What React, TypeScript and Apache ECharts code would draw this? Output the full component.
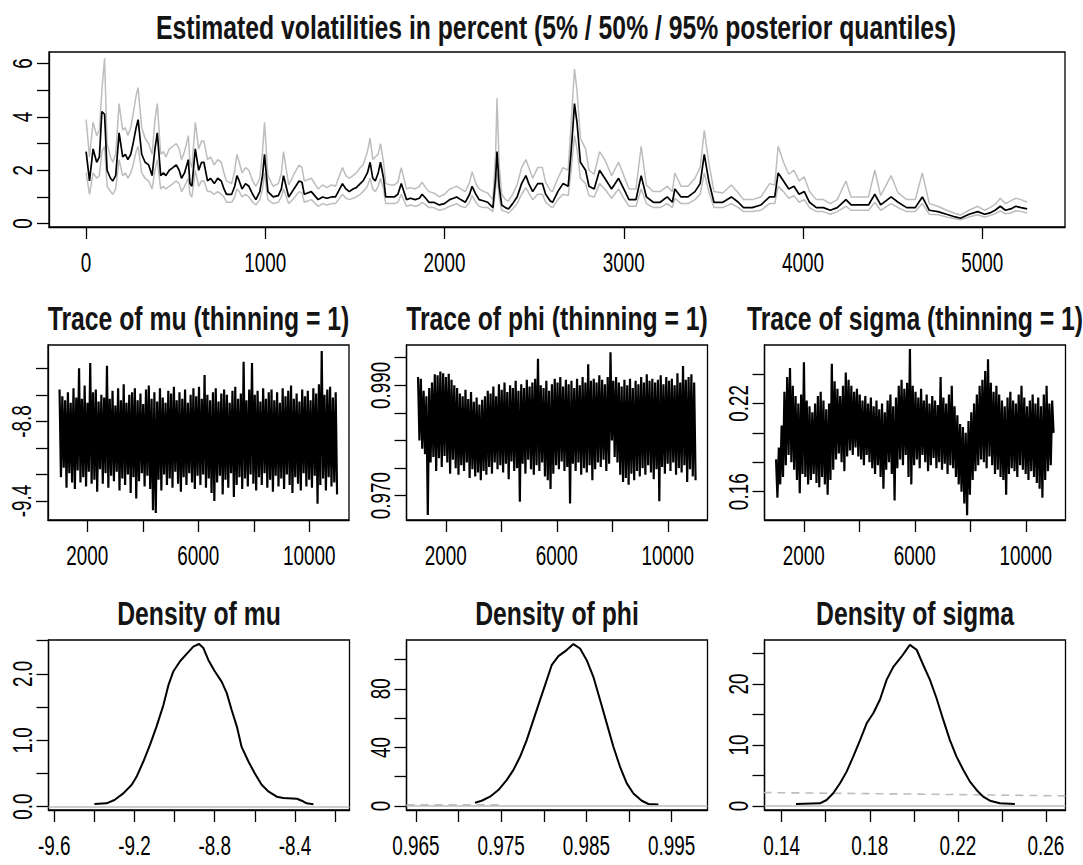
import React, { useEffect, useRef } from "react";
import * as echarts from "echarts";

// ---------- Top panel: estimated volatilities (5% / 50% / 95% posterior quantiles) ----------
const volTime = [
  1, 20, 40, 60, 75, 89, 104, 118, 137, 150,
  166, 185, 205, 220, 234, 250, 263, 280, 291, 311,
  330, 350, 369, 385, 398, 417, 432, 446, 465, 485,
  504, 520, 533, 550, 571, 580, 591, 610, 629, 645,
  658, 678, 695, 716, 735, 755, 770, 784, 813, 830,
  842, 855, 871, 890, 909, 930, 948, 970, 985, 996,
  1015, 1044, 1073, 1090, 1102, 1131, 1160, 1189, 1205, 1218,
  1257, 1295, 1320, 1344, 1370, 1392, 1431, 1450, 1469, 1490,
  1508, 1530, 1546, 1570, 1585, 1600, 1614, 1630, 1643, 1660,
  1672, 1700, 1720, 1740, 1759, 1788, 1810, 1836, 1860, 1875,
  1895, 1913, 1940, 1971, 2000, 2029, 2050, 2068, 2090, 2116,
  2140, 2154, 2175, 2193, 2220, 2241, 2270, 2285, 2293, 2305,
  2319, 2340, 2357, 2380, 2405, 2430, 2454, 2470, 2492, 2520,
  2546, 2564, 2590, 2603, 2632, 2661, 2690, 2705, 2715, 2725,
  2739, 2758, 2787, 2806, 2835, 2865, 2894, 2932, 2971, 3000,
  3029, 3068, 3097, 3126, 3165, 3203, 3242, 3271, 3285, 3319,
  3358, 3397, 3426, 3449, 3474, 3503, 3552, 3600, 3639, 3668,
  3716, 3765, 3813, 3842, 3861, 3891, 3920, 3949, 3978, 4007,
  4036, 4074, 4113, 4152, 4191, 4239, 4268, 4317, 4365, 4400,
  4433, 4491, 4530, 4578, 4626, 4665, 4704, 4752, 4800, 4849,
  4878, 4926, 4974, 5013, 5042, 5071, 5100, 5129, 5158, 5187,
  5216, 5250,
];
const volQ05 = [
  1.9, 1.1, 1.9, 1.7, 1.8, 2.7, 2.9, 1.4, 1.2, 1.1,
  1.3, 2.4, 1.8, 1.9, 1.7, 1.9, 2.2, 2.7, 2.9, 1.9,
  1.7, 1.6, 1.3, 2.0, 2.4, 1.3, 1.4, 1.3, 1.4, 1.5,
  1.6, 1.5, 1.2, 1.4, 1.7, 1.1, 1.0, 2.0, 1.4, 1.6,
  1.6, 1.2, 1.2, 1.1, 1.2, 1.1, 1.0, 0.8, 0.8, 1.0,
  1.3, 1.2, 1.0, 1.1, 1.0, 0.8, 0.7, 0.9, 1.3, 1.9,
  0.9, 0.75, 0.8, 1.0, 1.3, 0.75, 0.95, 1.2, 1.15, 0.8,
  0.9, 0.65, 0.75, 0.7, 0.75, 0.75, 1.1, 0.95, 0.9, 0.95,
  1.0, 1.1, 1.2, 1.4, 1.7, 1.3, 1.2, 1.4, 1.7, 1.3,
  0.75, 0.75, 0.75, 0.8, 1.1, 0.65, 0.7, 0.65, 0.7, 0.8,
  0.7, 0.6, 0.6, 0.5, 0.55, 0.65, 0.7, 0.75, 0.65, 0.6,
  0.8, 1.05, 0.8, 0.65, 0.6, 0.6, 0.45, 1.3, 1.9, 1.0,
  0.5, 0.45, 0.4, 0.55, 0.75, 1.1, 1.35, 1.15, 0.9, 1.1,
  1.1, 0.8, 0.65, 0.6, 0.9, 1.1, 1.05, 1.9, 2.6, 3.3,
  2.8, 1.7, 1.5, 1.05, 1.0, 1.5, 1.3, 0.95, 1.3, 0.95,
  0.65, 0.65, 1.3, 0.75, 0.6, 0.6, 0.75, 0.6, 0.95, 0.75,
  0.75, 0.9, 1.1, 1.9, 1.2, 0.6, 0.6, 0.75, 0.6, 0.45,
  0.45, 0.5, 0.75, 0.75, 1.4, 1.2, 0.95, 1.05, 0.8, 0.9,
  0.6, 0.45, 0.45, 0.35, 0.45, 0.65, 0.5, 0.5, 0.5, 0.8,
  0.5, 0.75, 0.6, 0.45, 0.45, 0.75, 0.35, 0.33, 0.25, 0.18,
  0.14, 0.25, 0.33, 0.25, 0.3, 0.37, 0.48, 0.37, 0.4, 0.48,
  0.45, 0.4,
];
const volQ50 = [
  2.7, 1.6, 2.8, 2.3, 2.5, 4.2, 4.1, 2.0, 1.7, 1.6,
  1.8, 3.4, 2.5, 2.6, 2.4, 2.6, 3.0, 3.6, 3.9, 2.6,
  2.3, 2.2, 1.8, 2.8, 3.4, 1.8, 1.9, 1.8, 2.0, 2.1,
  2.2, 2.0, 1.7, 1.9, 2.4, 1.5, 1.4, 2.8, 2.0, 2.3,
  2.3, 1.6, 1.7, 1.5, 1.7, 1.6, 1.3, 1.1, 1.1, 1.4,
  1.8, 1.6, 1.3, 1.5, 1.4, 1.1, 0.9, 1.2, 1.8, 2.6,
  1.2, 1.0, 1.05, 1.3, 1.8, 1.0, 1.3, 1.6, 1.55, 1.1,
  1.2, 0.9, 1.0, 0.95, 1.0, 1.0, 1.5, 1.3, 1.2, 1.3,
  1.35, 1.5, 1.6, 1.9, 2.3, 1.7, 1.6, 1.9, 2.3, 1.7,
  1.0, 1.0, 1.0, 1.1, 1.5, 0.9, 0.95, 0.9, 0.95, 1.1,
  0.95, 0.8, 0.8, 0.7, 0.75, 0.9, 0.95, 1.0, 0.9, 0.8,
  1.1, 1.4, 1.1, 0.9, 0.85, 0.8, 0.6, 1.7, 2.7, 1.4,
  0.7, 0.6, 0.55, 0.75, 1.0, 1.5, 1.8, 1.5, 1.2, 1.5,
  1.5, 1.1, 0.85, 0.8, 1.2, 1.5, 1.4, 2.6, 3.5, 4.5,
  3.8, 2.3, 2.0, 1.4, 1.3, 2.0, 1.7, 1.3, 1.7, 1.3,
  0.9, 0.9, 1.8, 1.0, 0.8, 0.8, 1.0, 0.8, 1.3, 1.0,
  1.0, 1.2, 1.5, 2.6, 1.6, 0.8, 0.8, 1.0, 0.8, 0.6,
  0.6, 0.7, 1.0, 1.0, 1.9, 1.6, 1.3, 1.4, 1.1, 1.2,
  0.8, 0.6, 0.6, 0.5, 0.6, 0.9, 0.7, 0.7, 0.7, 1.1,
  0.7, 1.0, 0.8, 0.6, 0.6, 1.0, 0.5, 0.45, 0.35, 0.25,
  0.2, 0.35, 0.45, 0.35, 0.4, 0.5, 0.65, 0.5, 0.55, 0.65,
  0.6, 0.55,
];
const volQ95 = [
  3.9, 2.5, 3.8, 3.3, 3.5, 5.0, 6.2, 3.0, 2.5, 2.3,
  2.6, 4.5, 3.5, 3.6, 3.3, 3.6, 4.1, 4.8, 5.1, 3.6,
  3.2, 3.0, 2.6, 3.9, 4.5, 2.6, 2.7, 2.5, 2.8, 2.9,
  3.0, 2.8, 2.4, 2.7, 3.3, 2.3, 2.1, 3.8, 2.8, 3.1,
  3.1, 2.4, 2.5, 2.2, 2.4, 2.3, 1.9, 1.6, 1.5, 2.0,
  2.6, 2.3, 1.9, 2.1, 2.0, 1.6, 1.4, 1.7, 2.7, 3.8,
  1.8, 1.4, 1.5, 1.9, 2.7, 1.45, 1.85, 2.2, 2.1, 1.6,
  1.7, 1.3, 1.45, 1.35, 1.45, 1.4, 2.1, 1.8, 1.7, 1.8,
  1.9, 2.1, 2.2, 2.7, 3.2, 2.4, 2.5, 2.6, 3.0, 2.3,
  1.5, 1.45, 1.45, 1.55, 2.1, 1.3, 1.35, 1.3, 1.4, 1.55,
  1.35, 1.2, 1.15, 1.0, 1.1, 1.3, 1.35, 1.4, 1.3, 1.2,
  1.55, 1.95, 1.5, 1.3, 1.2, 1.15, 0.9, 2.6, 4.7, 2.2,
  1.1, 0.9, 0.85, 1.1, 1.45, 2.1, 2.4, 2.1, 1.7, 2.1,
  2.1, 1.55, 1.25, 1.2, 1.7, 2.1, 2.0, 3.6, 4.7, 5.8,
  5.0, 3.2, 2.8, 2.0, 1.85, 2.7, 2.4, 1.8, 2.3, 1.8,
  1.3, 1.3, 2.9, 1.45, 1.2, 1.2, 1.4, 1.2, 1.9, 1.4,
  1.4, 1.7, 2.1, 3.5, 2.3, 1.2, 1.15, 1.45, 1.15, 0.9,
  0.9, 1.0, 1.5, 1.45, 2.9, 2.3, 1.85, 2.0, 1.6, 1.75,
  1.2, 0.9, 0.9, 0.75, 0.9, 1.6, 1.0, 1.0, 1.0, 2.0,
  1.05, 1.8, 1.15, 0.9, 0.9, 1.9, 0.75, 0.65, 0.5, 0.38,
  0.32, 0.5, 0.65, 0.5, 0.6, 0.72, 0.95, 0.75, 0.85, 0.95,
  0.9, 0.8,
];
const volXTicks = [0, 1000, 2000, 3000, 4000, 5000];
const volYTicks = [0, 1, 2, 3, 4, 5, 6];
const volYLabels = [0, 2, 4, 6];

// ---------- MCMC traces (draws 1001 .. 11000) ----------
const traceFirstIter = 1001;
const traceLastIter = 11000;
const muTrace = [
  -8.56, -9.22, -8.61, -9.15, -8.64, -9.30, -8.58, -9.19, -8.66, -9.26,
  -8.55, -9.31, -8.62, -9.17, -8.40, -9.26, -8.63, -9.22, -8.53, -9.29,
  -8.66, -9.18, -8.36, -9.27, -8.58, -9.24, -8.56, -9.33, -8.65, -9.16,
  -8.60, -9.27, -8.62, -9.19, -8.38, -9.30, -8.63, -9.21, -8.57, -9.25,
  -8.68, -9.18, -8.55, -9.32, -8.64, -9.23, -8.52, -9.28, -8.66, -9.20,
  -8.60, -9.34, -8.58, -9.22, -8.55, -9.38, -8.64, -9.25, -8.59, -9.19,
  -8.67, -9.29, -8.56, -9.21, -8.53, -9.31, -8.63, -9.47, -8.58, -9.49,
  -8.65, -9.24, -8.55, -9.32, -8.62, -9.20, -8.66, -9.28, -8.57, -9.23,
  -8.59, -9.30, -8.54, -9.18, -8.64, -9.27, -8.58, -9.33, -8.63, -9.22,
  -8.56, -9.28, -8.66, -9.19, -8.60, -9.26, -8.55, -9.31, -8.61, -9.21,
  -8.54, -9.28, -8.63, -9.20, -8.45, -9.30, -8.60, -9.23, -8.64, -9.34,
  -8.58, -9.40, -8.55, -9.26, -8.65, -9.21, -8.59, -9.35, -8.56, -9.24,
  -8.60, -9.30, -8.66, -9.19, -8.57, -9.37, -8.54, -9.28, -8.63, -9.22,
  -8.59, -9.31, -8.35, -9.23, -8.64, -9.29, -8.56, -9.20, -8.36, -9.27,
  -8.60, -9.32, -8.57, -9.22, -8.65, -9.28, -8.55, -9.19, -8.63, -9.30,
  -8.58, -9.24, -8.56, -9.33, -8.64, -9.21, -8.58, -9.29, -8.66, -9.23,
  -8.55, -9.31, -8.61, -9.20, -8.57, -9.28, -8.53, -9.34, -8.63, -9.22,
  -8.59, -9.27, -8.65, -9.32, -8.56, -9.19, -8.61, -9.29, -8.57, -9.24,
  -8.64, -9.30, -8.55, -9.21, -8.59, -9.42, -8.52, -9.28, -8.27, -9.23,
  -8.60, -9.32, -8.56, -9.22, -8.54, -9.29, -8.62, -9.26, -8.58, -9.35,
];
const phiTrace = [
  0.9915, 0.9800, 0.9912, 0.9785, 0.9890, 0.9775, 0.9880, 0.9665, 0.9895, 0.9760,
  0.9905, 0.9770, 0.9920, 0.9745, 0.9918, 0.9768, 0.9925, 0.9752, 0.9922, 0.9772,
  0.9915, 0.9760, 0.9921, 0.9740, 0.9910, 0.9765, 0.9900, 0.9750, 0.9895, 0.9738,
  0.9885, 0.9755, 0.9880, 0.9745, 0.9892, 0.9760, 0.9875, 0.9732, 0.9888, 0.9748,
  0.9870, 0.9735, 0.9878, 0.9742, 0.9865, 0.9728, 0.9874, 0.9745, 0.9880, 0.9738,
  0.9890, 0.9752, 0.9885, 0.9740, 0.9898, 0.9760, 0.9880, 0.9748, 0.9902, 0.9755,
  0.9892, 0.9742, 0.9905, 0.9758, 0.9888, 0.9730, 0.9900, 0.9762, 0.9895, 0.9745,
  0.9908, 0.9750, 0.9890, 0.9689, 0.9902, 0.9758, 0.9895, 0.9740, 0.9910, 0.9765,
  0.9898, 0.9748, 0.9905, 0.9738, 0.9912, 0.9755, 0.9948, 0.9745, 0.9900, 0.9760,
  0.9895, 0.9735, 0.9908, 0.9728, 0.9890, 0.9712, 0.9902, 0.9740, 0.9912, 0.9755,
  0.9905, 0.9748, 0.9915, 0.9762, 0.9898, 0.9745, 0.9910, 0.9752, 0.9902, 0.9686,
  0.9908, 0.9758, 0.9895, 0.9745, 0.9912, 0.9760, 0.9900, 0.9738, 0.9915, 0.9750,
  0.9905, 0.9742, 0.9938, 0.9755, 0.9908, 0.9728, 0.9912, 0.9748, 0.9905, 0.9760,
  0.9918, 0.9752, 0.9910, 0.9765, 0.9902, 0.9745, 0.9915, 0.9758, 0.9960, 0.9800,
  0.9908, 0.9770, 0.9915, 0.9760, 0.9905, 0.9738, 0.9898, 0.9725, 0.9910, 0.9732,
  0.9900, 0.9720, 0.9912, 0.9740, 0.9895, 0.9728, 0.9908, 0.9745, 0.9902, 0.9735,
  0.9915, 0.9750, 0.9905, 0.9738, 0.9920, 0.9755, 0.9908, 0.9742, 0.9912, 0.9730,
  0.9905, 0.9748, 0.9910, 0.9690, 0.9918, 0.9752, 0.9902, 0.9740, 0.9915, 0.9758,
  0.9908, 0.9745, 0.9912, 0.9760, 0.9900, 0.9738, 0.9922, 0.9750, 0.9905, 0.9742,
  0.9935, 0.9755, 0.9910, 0.9725, 0.9915, 0.9748, 0.9920, 0.9735, 0.9905, 0.9728,
];
const sigmaTrace = [
  0.182, 0.156, 0.190, 0.165, 0.205, 0.170, 0.228, 0.178, 0.238, 0.185,
  0.244, 0.180, 0.232, 0.175, 0.225, 0.168, 0.220, 0.159, 0.226, 0.172,
  0.248, 0.170, 0.222, 0.165, 0.218, 0.168, 0.214, 0.172, 0.220, 0.166,
  0.225, 0.163, 0.228, 0.170, 0.222, 0.165, 0.216, 0.158, 0.220, 0.168,
  0.247, 0.175, 0.235, 0.182, 0.230, 0.186, 0.225, 0.180, 0.232, 0.174,
  0.241, 0.184, 0.236, 0.188, 0.232, 0.185, 0.228, 0.190, 0.230, 0.184,
  0.226, 0.182, 0.222, 0.178, 0.225, 0.185, 0.220, 0.180, 0.224, 0.176,
  0.218, 0.172, 0.222, 0.178, 0.216, 0.170, 0.220, 0.162, 0.214, 0.175,
  0.222, 0.180, 0.226, 0.172, 0.218, 0.154, 0.224, 0.176, 0.232, 0.182,
  0.236, 0.178, 0.230, 0.185, 0.234, 0.170, 0.257, 0.165, 0.232, 0.178,
  0.228, 0.182, 0.224, 0.176, 0.230, 0.185, 0.222, 0.180, 0.226, 0.174,
  0.220, 0.178, 0.225, 0.183, 0.222, 0.176, 0.219, 0.180, 0.238, 0.175,
  0.224, 0.179, 0.220, 0.172, 0.226, 0.178, 0.232, 0.176, 0.218, 0.170,
  0.212, 0.165, 0.206, 0.160, 0.204, 0.152, 0.200, 0.144, 0.208, 0.158,
  0.214, 0.168, 0.220, 0.174, 0.226, 0.178, 0.232, 0.182, 0.236, 0.180,
  0.242, 0.176, 0.250, 0.184, 0.234, 0.178, 0.228, 0.172, 0.232, 0.175,
  0.226, 0.170, 0.222, 0.168, 0.218, 0.158, 0.224, 0.172, 0.228, 0.176,
  0.222, 0.174, 0.220, 0.170, 0.226, 0.178, 0.232, 0.175, 0.224, 0.172,
  0.218, 0.168, 0.222, 0.174, 0.226, 0.170, 0.220, 0.166, 0.224, 0.162,
  0.218, 0.156, 0.226, 0.168, 0.232, 0.174, 0.220, 0.178, 0.222, 0.200,
];
const traceXTicks = [2000, 4000, 6000, 8000, 10000];
const traceXLabels = [2000, 6000, 10000];
const muYTicks = [-9.4, -9.2, -9.0, -8.8, -8.6, -8.4];
const muYLabels = [-9.4, -8.8];
const phiYTicks = [0.97, 0.975, 0.98, 0.985, 0.99, 0.995];
const phiYLabels = [0.97, 0.99];
const sigmaYTicks = [0.16, 0.18, 0.2, 0.22, 0.24];
const sigmaYLabels = [0.16, 0.22];

// ---------- Posterior densities ----------
const densMuX = [-9.40, -9.34, -9.30, -9.256, -9.214, -9.19, -9.156, -9.123, -9.09, -9.056, -9.031, -9.006, -8.973, -8.94, -8.907, -8.878, -8.857, -8.832, -8.80, -8.765, -8.74, -8.716, -8.69, -8.666, -8.632, -8.60, -8.566, -8.533, -8.491, -8.458, -8.39, -8.366, -8.342, -8.308];
const densMuY = [0.04, 0.05, 0.10, 0.20, 0.33, 0.45, 0.68, 0.93, 1.21, 1.53, 1.83, 2.04, 2.19, 2.30, 2.41, 2.45, 2.39, 2.21, 2.04, 1.88, 1.71, 1.46, 1.21, 0.90, 0.68, 0.50, 0.33, 0.23, 0.15, 0.13, 0.12, 0.09, 0.05, 0.035];
const densPhiX = [0.97193, 0.97271, 0.97369, 0.97466, 0.97564, 0.97642, 0.97721, 0.97799, 0.97877, 0.97955, 0.98034, 0.98092, 0.98171, 0.98268, 0.98347, 0.98425, 0.98503, 0.98581, 0.9866, 0.98738, 0.98816, 0.98894, 0.98973, 0.99051, 0.99149, 0.99227, 0.99344];
const densPhiY = [2.3, 3.6, 6.4, 10.9, 17.7, 24.5, 33.6, 45, 58.6, 72.3, 85.9, 96.1, 102.3, 106.4, 110.5, 107.5, 99.5, 88.2, 72.3, 56.4, 40.5, 26.8, 15.5, 8.6, 3.6, 1.4, 1.1];
const priorPhiX = [0.9639, 0.9752];
const priorPhiY = [0.8, 0.8];
const densSigmaX = [0.1465, 0.1574, 0.1604, 0.1634, 0.1665, 0.1695, 0.1725, 0.1756, 0.1786, 0.1816, 0.1846, 0.1877, 0.1907, 0.1945, 0.1982, 0.2013, 0.2043, 0.2073, 0.2103, 0.2134, 0.2164, 0.2194, 0.2225, 0.2255, 0.2285, 0.2315, 0.2346, 0.2391, 0.2459];
const densSigmaY = [0.33, 0.44, 0.98, 2.08, 3.72, 5.63, 8.09, 10.8, 13.55, 15.2, 17.4, 20.7, 22.8, 24.5, 26.4, 25.6, 23.1, 20.7, 17.7, 14.1, 10.8, 8.09, 5.9, 3.99, 2.62, 1.53, 0.87, 0.44, 0.33];
const priorSigmaX = [0.1317, 0.2, 0.2689];
const priorSigmaY = [2.2, 1.95, 1.65];
const densMuXTicks = [-9.6, -9.4, -9.2, -9.0, -8.8, -8.6, -8.4, -8.2];
const densMuXLabels = [-9.6, -9.2, -8.8, -8.4];
const densMuYTicks = [0, 0.5, 1, 1.5, 2, 2.5];
const densMuYLabels = [0, 1, 2];
const densPhiXTicks = [0.965, 0.97, 0.975, 0.98, 0.985, 0.99, 0.995];
const densPhiXLabels = [0.965, 0.975, 0.985, 0.995];
const densPhiYTicks = [0, 20, 40, 60, 80, 100];
const densPhiYLabels = [0, 40, 80];
const densSigmaXTicks = [0.14, 0.16, 0.18, 0.2, 0.22, 0.24, 0.26];
const densSigmaXLabels = [0.14, 0.18, 0.22, 0.26];
const densSigmaYTicks = [0, 5, 10, 15, 20, 25];
const densSigmaYLabels = [0, 10, 20];

const FONT = "'Liberation Sans', Arial, sans-serif";
const TICK_FS = 27;
const TICK_SCALE = 0.7;
const TITLE_FS = 33;
const TITLE_SCALE = 0.75;
const GREY = "#bdbdbd";

function xAxis(gridIndex: number, min: number, max: number, ticks: number[]) {
  return {
    type: "value", gridIndex, min, max, position: "bottom",
    axisLine: { show: true, onZero: false, lineStyle: { color: "#000", width: 1.3 } },
    axisTick: { show: true, inside: false, length: 12, customValues: ticks, lineStyle: { color: "#000", width: 1.3 } },
    axisLabel: { show: false },
    splitLine: { show: false },
  };
}
function yAxis(gridIndex: number, min: number, max: number, ticks: number[]) {
  return {
    type: "value", gridIndex, min, max, position: "left",
    axisLine: { show: true, onZero: false, lineStyle: { color: "#000", width: 1.3 } },
    axisTick: { show: true, inside: false, length: 12, customValues: ticks, lineStyle: { color: "#000", width: 1.3 } },
    axisLabel: { show: false },
    splitLine: { show: false },
  };
}
function lineSeries(xi: number, xs: number[], ys: number[], color: string, width: number, extra: any = {}) {
  return {
    type: "line", xAxisIndex: xi, yAxisIndex: xi, showSymbol: false, symbol: "none", silent: true,
    data: xs.map((x, i) => [x, ys[i]]),
    lineStyle: { color, width, ...(extra.lineStyle || {}) },
    ...(extra.rest || {}),
  };
}
function iterations(n: number) {
  const step = (traceLastIter - traceFirstIter) / (n - 1);
  return Array.from({ length: n }, (_, i) => traceFirstIter + i * step);
}
const zeroLine = {
  silent: true, symbol: ["none", "none"], label: { show: false },
  lineStyle: { color: GREY, type: "solid", width: 1.6 }, data: [{ yAxis: 0 }],
};

export default function App() {
  const ref = useRef<HTMLDivElement>(null);
  useEffect(() => {
    if (!ref.current) return;
    const chart = echarts.init(ref.current, undefined, { renderer: "svg" });
    const f0 = (v: number) => String(Math.round(v));
    const f1 = (v: number) => v.toFixed(1);
    const f2 = (v: number) => v.toFixed(2);
    const f3 = (v: number) => v.toFixed(3);
    const layout = [
      { left: 49, top: 52, width: 1016, height: 175 },
      { left: 48, top: 345, width: 301, height: 175 },
      { left: 406.5, top: 345, width: 301, height: 175 },
      { left: 764.5, top: 345, width: 301, height: 175 },
      { left: 48.5, top: 640, width: 301, height: 170 },
      { left: 406.5, top: 640, width: 301, height: 170 },
      { left: 764.5, top: 640, width: 301, height: 170 },
    ];
    const grids = layout.map((g) => ({ ...g, show: true, borderColor: "#000", borderWidth: 1.3, backgroundColor: "transparent" }));
    const muIt = iterations(muTrace.length);
    const phiIt = iterations(phiTrace.length);
    const sigIt = iterations(sigmaTrace.length);
    const titles = [
      { text: "Estimated volatilities in percent (5% / 50% / 95% posterior quantiles)", x: 556, y: 28 },
      { text: "Trace of mu (thinning = 1)", x: 198.5, y: 319 },
      { text: "Trace of phi (thinning = 1)", x: 557, y: 319 },
      { text: "Trace of sigma (thinning = 1)", x: 915, y: 319 },
      { text: "Density of mu", x: 199, y: 614 },
      { text: "Density of phi", x: 557, y: 614 },
      { text: "Density of sigma", x: 915, y: 614 },
    ];
    chart.setOption({
      animation: false,
      backgroundColor: "#ffffff",
      grid: grids,
      xAxis: [
        xAxis(0, -206, 5461, volXTicks),
        xAxis(1, 585, 11430, traceXTicks),
        xAxis(2, 585, 11430, traceXTicks),
        xAxis(3, 585, 11430, traceXTicks),
        xAxis(4, -9.629, -8.128, densMuXTicks),
        xAxis(5, 0.96389, 0.9992, densPhiXTicks),
        xAxis(6, 0.1322, 0.2689, densSigmaXTicks),
      ],
      yAxis: [
        yAxis(0, -0.127, 6.435, volYTicks),
        yAxis(1, -9.543, -8.2244, muYTicks),
        yAxis(2, 0.9656, 0.9973, phiYTicks),
        yAxis(3, 0.1408, 0.2597, sigmaYTicks),
        yAxis(4, -0.05, 2.51, densMuYTicks),
        yAxis(5, -2.7, 113.3, densPhiYTicks),
        yAxis(6, -0.66, 27.2, densSigmaYTicks),
      ],
      series: [
        lineSeries(0, volTime, volQ05, GREY, 1.5),
        lineSeries(0, volTime, volQ95, GREY, 1.5),
        lineSeries(0, volTime, volQ50, "#000", 1.7),
        lineSeries(1, muIt, muTrace, "#000", 2.2),
        lineSeries(2, phiIt, phiTrace, "#000", 2.2),
        lineSeries(3, sigIt, sigmaTrace, "#000", 2.2),
        lineSeries(4, densMuX, densMuY, "#000", 2, { rest: { markLine: zeroLine } }),
        lineSeries(5, priorPhiX, priorPhiY, GREY, 1.6, { lineStyle: { type: [8, 6] } }),
        lineSeries(5, densPhiX, densPhiY, "#000", 2, { rest: { markLine: zeroLine } }),
        lineSeries(6, priorSigmaX, priorSigmaY, GREY, 1.6, { lineStyle: { type: [8, 6] } }),
        lineSeries(6, densSigmaX, densSigmaY, "#000", 2, { rest: { markLine: zeroLine } }),
      ],
    });

    // Tick labels placed through the axes' own scales (condensed text like the reference).
    const xLabelSets: [number, number[], (v: number) => string][] = [
      [0, volXTicks, f0], [1, traceXLabels, f0], [2, traceXLabels, f0], [3, traceXLabels, f0],
      [4, densMuXLabels, f1], [5, densPhiXLabels, f3], [6, densSigmaXLabels, f2],
    ];
    const yLabelSets: [number, number[], (v: number) => string][] = [
      [0, volYLabels, f0], [1, muYLabels, f1], [2, phiYLabels, f3], [3, sigmaYLabels, f2],
      [4, densMuYLabels, f1], [5, densPhiYLabels, f0], [6, densSigmaYLabels, f0],
    ];
    const labelStyle = { fill: "#000", fontFamily: FONT, fontSize: TICK_FS, textAlign: "center", textVerticalAlign: "middle" };
    const els: any[] = [];
    xLabelSets.forEach(([k, vals, fmt]) => {
      const g = layout[k];
      vals.forEach((v) => {
        const px = chart.convertToPixel({ xAxisIndex: k } as any, v) as unknown as number;
        els.push({ type: "text", x: px, y: g.top + g.height + 36, scaleX: TICK_SCALE, silent: true, style: { ...labelStyle, text: fmt(v) } });
      });
    });
    yLabelSets.forEach(([k, vals, fmt]) => {
      const g = layout[k];
      vals.forEach((v) => {
        const py = chart.convertToPixel({ yAxisIndex: k } as any, v) as unknown as number;
        els.push({ type: "text", x: g.left - 26, y: py, rotation: Math.PI / 2, scaleX: TICK_SCALE, silent: true, style: { ...labelStyle, text: fmt(v) } });
      });
    });
    titles.forEach((t) => {
      els.push({
        type: "text", x: t.x, y: t.y, scaleX: TITLE_SCALE, silent: true,
        style: { text: t.text, fill: "#141414", fontFamily: FONT, fontSize: TITLE_FS, fontWeight: "bold", textAlign: "center", textVerticalAlign: "middle" },
      });
    });
    chart.setOption({ graphic: els });
    return () => chart.dispose();
  }, []);
  return (
    <div
      ref={ref}
      style={{ position: "absolute", left: 0, top: 0, width: 1083, height: 865, background: "#fff" }}
    />
  );
}
